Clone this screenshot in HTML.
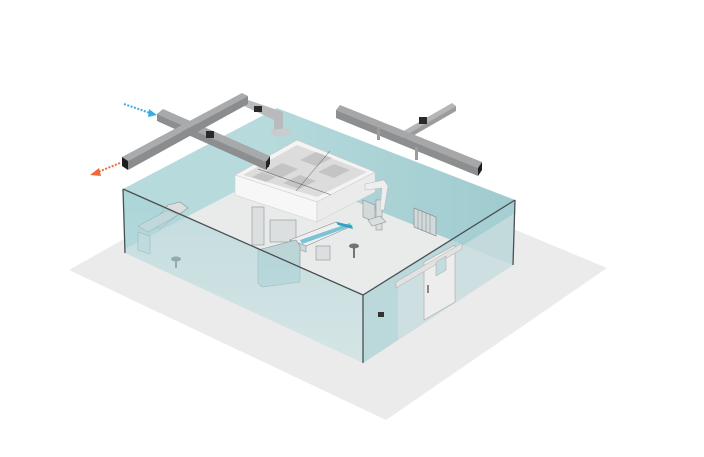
<!DOCTYPE html>
<html><head><style>body{margin:0;background:#fff}svg{display:block}</style></head><body>
<svg width="704" height="457" viewBox="0 0 704 457" xmlns="http://www.w3.org/2000/svg">
<defs>
<linearGradient id="bw" x1="0" y1="0" x2="1" y2="0"><stop offset="0" stop-color="#b4d9db"/><stop offset="1" stop-color="#9fcbcf"/></linearGradient>
<linearGradient id="fw" x1="0" y1="0" x2="0" y2="1"><stop offset="0" stop-color="#a3d0d4"/><stop offset="1" stop-color="#c4e0e2"/></linearGradient>
</defs>
<!-- outer slab -->
<polygon points="69,270 300,140 607,268 386,420" fill="#ebebeb"/>
<!-- back walls -->
<polygon points="123,189 277,108 277,170 125,249" fill="#b7dbdd"/>
<polygon points="277,108 515,200 513,265 277,170" fill="url(#bw)"/>
<!-- interior floor -->
<polygon points="125,249 277,170 513,265 363,363" fill="#e9eaea"/>
<!-- vents on right wall -->
<polygon points="414,208 436,217 436,236 414,227" fill="#d2d9da" stroke="#8a9293" stroke-width="0.7"/>
<g stroke="#8a9293" stroke-width="0.6"><line x1="418" y1="210" x2="418" y2="229"/><line x1="422" y1="211" x2="422" y2="231"/><line x1="426" y1="213" x2="426" y2="232"/><line x1="430" y1="214" x2="430" y2="234"/></g>
<polygon points="363,200 375,205 375,222 363,217" fill="#d2d9da" stroke="#8a9293" stroke-width="0.6"/>
<!-- equipment -->
<g fill="#dcdfe0" stroke="#8d9496" stroke-width="0.6">
<polygon points="168,205 180,202 188,208 160,228 150,226"/>
<polygon points="138,226 168,210 178,215 148,232"/>
<polygon points="138,232 150,236 150,254 138,250" fill="#d2e3e4"/>
<rect x="252" y="207" width="12" height="38"/>
<rect x="270" y="220" width="26" height="22"/>
<polygon points="290,240 336,222 352,226 306,246" fill="#eef0f0"/>
<polygon points="290,240 306,246 306,252 290,246" fill="#cfd8d9"/>
<rect x="316" y="246" width="14" height="14"/>
<rect x="376" y="200" width="6" height="30"/>
<polygon points="368,220 380,216 386,222 372,226"/>
</g>
<polygon points="336,222 352,226 353,229 338,225" fill="#2fa3c4"/>
<polygon points="300,240 350,223 352,226 302,244" fill="#2fa3c4" opacity="0.6"/>
<polygon points="258,250 296,240 300,246 300,282 262,287 258,283" fill="#bcd6d8" stroke="#8d9496" stroke-width="0.6"/>
<g fill="#6f7477"><ellipse cx="176" cy="259" rx="5" ry="2.5"/><ellipse cx="354" cy="246" rx="5" ry="2.5"/><rect x="175" y="259" width="2" height="9"/><rect x="353" y="246" width="2" height="12"/></g>
<!-- right front wall -->
<polygon points="363,295 515,200 513,265 363,363" fill="#a6d0d4" opacity="0.7"/>
<polygon points="398,286 515,213 513,265 398,340" fill="#dfe5e5" opacity="0.5"/>
<polygon points="424,262 455,245 455,302 424,320" fill="#ededed" stroke="#a8a8a8" stroke-width="0.6"/>
<polygon points="396,282 462,243 462,249 396,288" fill="#e2e2e2" stroke="#aaa" stroke-width="0.5"/>
<polygon points="436,262 446,256 446,270 436,276" fill="#c3dcde" stroke="#999" stroke-width="0.4"/>
<rect x="427" y="285" width="2" height="8" fill="#888"/>
<rect x="378" y="312" width="6" height="5" fill="#333"/>
<!-- front-left wall glass -->
<polygon points="123,189 363,295 363,363 125,253" fill="url(#fw)" opacity="0.55"/>
<!-- ceiling box -->
<polygon points="235,175 297,140 375,172 317,202" fill="#f4f4f4" stroke="#c5c5c5" stroke-width="0.6"/>
<polygon points="243,175 297,145 367,172 317,197" fill="#dcdcdc"/>
<g fill="#c4c4c4"><polygon points="265,172 282,163 298,169 281,178"/><polygon points="300,160 316,152 332,158 316,166"/><polygon points="283,183 300,175 316,181 299,189"/><polygon points="318,172 334,164 350,170 334,178"/><polygon points="252,177 262,172 276,177 266,182"/></g>
<line x1="258" y1="169" x2="340" y2="198" stroke="#555" stroke-width="0.5"/>
<line x1="330" y1="151" x2="296" y2="191" stroke="#555" stroke-width="0.5"/>
<polygon points="235,175 317,202 317,222 235,195" fill="#f7f7f7" stroke="#ccc" stroke-width="0.5"/>
<polygon points="317,202 375,172 375,192 317,222" fill="#ebebeb" stroke="#ccc" stroke-width="0.5"/>
<polygon points="365,184 384,180 388,186 384,210 380,210 382,188 365,190" fill="#eee" stroke="#bbb" stroke-width="0.5"/>
<rect x="264" y="160" width="5" height="7" fill="#222"/>
<!-- glass edges -->
<g stroke="#4a4f52" stroke-width="1.3" fill="none">
<polyline points="123,189 363,295 515,200"/>
<line x1="123" y1="189" x2="125" y2="253"/>
<line x1="363" y1="295" x2="363" y2="363"/>
<line x1="515" y1="200" x2="513" y2="265"/>
</g>
<!-- ducts -->
<polygon points="248,100 283,112 283,133 274,135 274,120 244,106" fill="#b8babb"/>
<polygon points="270,130 288,128 292,134 274,137" fill="#c9cbcc"/>
<!-- cross duct left -->
<polygon points="157,114 163,109 270,156 266,162" fill="#a7a9ab"/>
<polygon points="157,114 266,162 266,170 157,121" fill="#8c8e90"/>
<polygon points="266,162 270,156 270,164 266,170" fill="#222"/>
<!-- long duct left -->
<polygon points="122,157 242,93 248,96 128,161" fill="#a9abad"/>
<polygon points="122,157 128,161 128,170 122,166" fill="#1e1e1e"/>
<polygon points="128,161 248,96 248,104 128,170" fill="#8a8c8e"/>
<!-- right ducts -->
<polygon points="400,133 452,103 456,106 404,136" fill="#b4b6b8"/>
<polygon points="404,136 456,106 456,111 404,141" fill="#9a9c9e"/>
<polygon points="336,110 340,105 482,162 478,168" fill="#a5a7a9"/>
<polygon points="336,110 478,168 478,176 336,118" fill="#8c8e90"/>
<polygon points="478,168 482,162 482,170 478,176" fill="#1e1e1e"/>
<rect x="377" y="127" width="3" height="13" fill="#9a9c9e"/>
<rect x="415" y="147" width="3" height="13" fill="#9a9c9e"/>
<rect x="206" y="131" width="8" height="7" fill="#2a2a2a"/>
<rect x="419" y="117" width="8" height="7" fill="#2a2a2a"/>
<rect x="254" y="106" width="8" height="6" fill="#2a2a2a"/>
<!-- arrows -->
<line x1="124" y1="104" x2="150" y2="113" stroke="#3aaee0" stroke-width="2" stroke-dasharray="2,1.5"/>
<polygon points="149,109 157,115 148,117" fill="#3aaee0"/>
<line x1="120" y1="163" x2="98" y2="172" stroke="#f06a3a" stroke-width="2" stroke-dasharray="2,1.5"/>
<polygon points="99,168 90,175 101,176" fill="#f06a3a"/>
</svg>
</body></html>
